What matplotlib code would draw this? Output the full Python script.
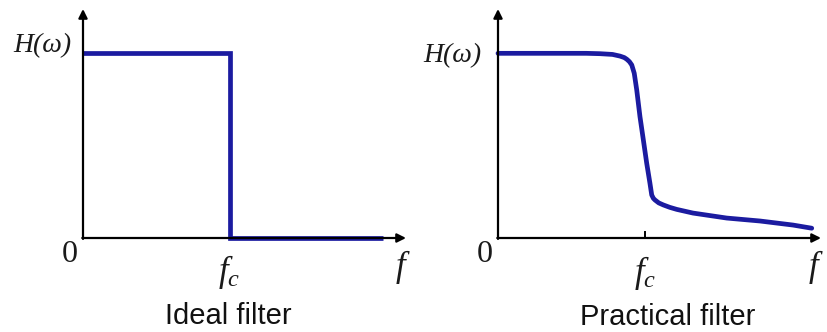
import matplotlib
matplotlib.use("Agg")
import matplotlib.pyplot as plt

plt.rcParams["mathtext.fontset"] = "custom"
plt.rcParams["mathtext.it"] = "Liberation Serif:italic"
plt.rcParams["mathtext.rm"] = "Liberation Serif"

# Frequency response curves (f normalised so that the cutoff fc = 1)
fc = 1.0
ideal_f = [0.0, 1.0, 1.0, 2.04]
ideal_h = [1.0, 1.0, 0.0, 0.0]

practical_f = [0.0, 0.60, 0.695, 0.78, 0.831, 0.860, 0.877, 0.895, 0.911,
               0.928, 0.945, 0.967, 0.990, 1.013, 1.035, 1.047, 1.058,
               1.069, 1.095, 1.126, 1.170, 1.217, 1.328, 1.558, 1.785,
               2.010, 2.137]
practical_h = [1.0, 1.0, 0.998, 0.994, 0.985, 0.977, 0.968, 0.955, 0.937,
               0.892, 0.801, 0.657, 0.531, 0.404, 0.296, 0.233, 0.215,
               0.206, 0.190, 0.179, 0.166, 0.155, 0.135, 0.108, 0.092,
               0.070, 0.053]

panel_titles = ["Ideal filter", "Practical filter"]
y_label = "H(ω)"

W, H = 827, 332
fig = plt.figure(figsize=(W / 100, H / 100), dpi=100)

BLUE = "#1b1ba0"
XMAX, YMAX = 2.2, 1.24


def fx(px):
    return px / W


def fy(py):
    return 1 - py / H


def make_axes(x0, x1, y_top, y_axis):
    ax = fig.add_axes([fx(x0), fy(y_axis), fx(x1) - fx(x0), (y_axis - y_top) / H])
    ax.set_xlim(0, XMAX)
    ax.set_ylim(0, YMAX)
    ax.axis("off")
    arrow = dict(arrowstyle="-|>", color="black", lw=1.6,
                 mutation_scale=13, shrinkA=0, shrinkB=0)
    ax.annotate("", xy=(XMAX, 0), xytext=(-0.005, 0), arrowprops=arrow,
                annotation_clip=False)
    ax.annotate("", xy=(0, YMAX), xytext=(0, -0.005), arrowprops=arrow,
                annotation_clip=False)
    return ax


serif = dict(family="Liberation Serif", color="#1a1a1a")
sans = dict(family="Liberation Sans", color="#111111")

# Left panel: ideal low-pass
ax1 = make_axes(83, 406, 9, 238)
ax1.plot(ideal_f, ideal_h, color=BLUE, lw=3.4, solid_joinstyle="miter",
         solid_capstyle="butt", clip_on=False)

# Right panel: practical low-pass
ax2 = make_axes(498, 821, 9, 238)
ax2.plot(practical_f, practical_h, color=BLUE, lw=3.4, solid_joinstyle="round",
         solid_capstyle="round", clip_on=False)
ax2.plot([fc, fc], [0, 0.035], color="black", lw=1.4, clip_on=False)

# Labels
fig.text(fx(42.5), fy(52), y_label, ha="center", va="baseline", fontsize=20,
         style="italic", **serif)
fig.text(fx(452.5), fy(62), y_label, ha="center", va="baseline", fontsize=20,
         style="italic", **serif)

for x in (70, 485):
    fig.text(fx(x), fy(262), "0", ha="center", va="baseline", fontsize=23, **serif)

fig.text(fx(229.5), fy(281), r"$f_c$", ha="center", va="baseline", fontsize=25,
         color="#1a1a1a")
fig.text(fx(645), fy(282), r"$f_c$", ha="center", va="baseline", fontsize=25,
         color="#1a1a1a")
fig.text(fx(403), fy(276), r"$f$", ha="center", va="baseline", fontsize=25,
         color="#1a1a1a")
fig.text(fx(816), fy(276), r"$f$", ha="center", va="baseline", fontsize=25,
         color="#1a1a1a")

fig.text(fx(228.5), fy(324), panel_titles[0], ha="center", va="baseline",
         fontsize=21, **sans)
fig.text(fx(667.5), fy(325), panel_titles[1], ha="center", va="baseline",
         fontsize=21, **sans)

fig.savefig("out.png", dpi=100)
